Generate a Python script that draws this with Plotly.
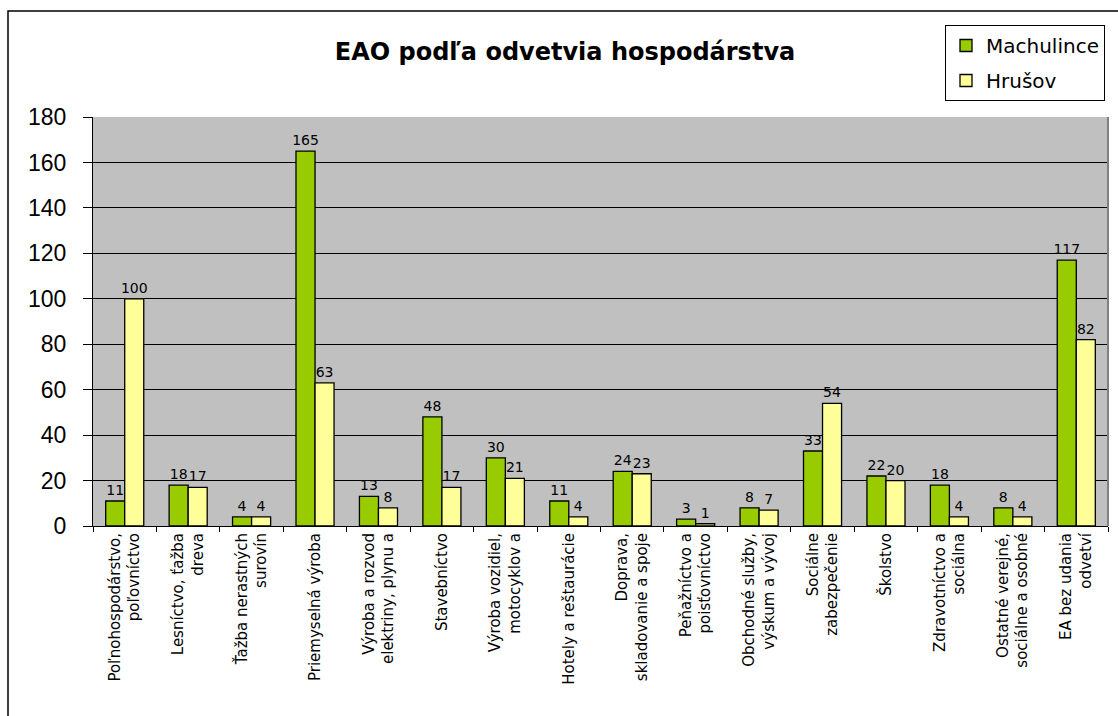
import plotly.graph_objects as go

categories = [
    "Poľnohospodárstvo,<br>poľovníctvo",
    "Lesníctvo, ťažba<br>dreva",
    "Ťažba nerastných<br>surovín",
    "Priemyselná výroba",
    "Výroba a rozvod<br>elektriny, plynu a",
    "Stavebníctvo",
    "Výroba vozidiel,<br>motocyklov a",
    "Hotely a reštaurácie",
    "Doprava,<br>skladovanie a spoje",
    "Peňažníctvo a<br>poisťovníctvo",
    "Obchodné služby,<br>výskum a vývoj",
    "Sociálne<br>zabezpečenie",
    "Školstvo",
    "Zdravotníctvo a<br>sociálna",
    "Ostatné verejné,<br>sociálne a osobné",
    "EA bez udania<br>odvetví",
]
machulince = [11, 18, 4, 165, 13, 48, 30, 11, 24, 3, 8, 33, 22, 18, 8, 117]
hrusov = [100, 17, 4, 63, 8, 17, 21, 4, 23, 1, 7, 54, 20, 4, 4, 82]
y_ticks = list(range(0, 181, 20))

W, H = 1118, 716
L, R, T, B = 93, 10, 117, 190
pw, ph = W - L - R, H - T - B

font = "Liberation Sans, Arial, sans-serif"
wide = "DejaVu Sans, Liberation Sans, sans-serif"

fig = go.Figure()
fig.add_trace(go.Bar(
    name="Machulince", x=categories, y=machulince, legendgroup="m",
    marker=dict(color="#99CC00", line=dict(color="black", width=1.3)),
    text=[str(v) for v in machulince], textposition="outside",
    textfont=dict(size=14, color="black", family=wide),
    constraintext="none", cliponaxis=False,
))
fig.add_trace(go.Bar(
    name="Hrušov", x=categories, y=hrusov, legendgroup="h",
    marker=dict(color="#FFFF99", line=dict(color="black", width=1.3)),
    text=[str(v) for v in hrusov], textposition="outside",
    textfont=dict(size=14, color="black", family=wide),
    constraintext="none", cliponaxis=False,
))

# outer frame (pixel positions converted to paper coordinates)
fig.add_shape(type="rect", xref="paper", yref="paper",
              x0=(8 - L) / pw, x1=(1130 - L) / pw,
              y0=(H - B - 760) / ph, y1=(H - B - 11) / ph,
              line=dict(color="black", width=1.5), fillcolor="rgba(0,0,0,0)",
              layer="below")
# gray right border of the plot area
fig.add_shape(type="line", xref="paper", yref="paper", x0=1, x1=1, y0=0, y1=1,
              line=dict(color="#808080", width=2))

fig.update_layout(
    width=W, height=H,
    margin=dict(l=L, r=R, t=T, b=B, autoexpand=False),
    paper_bgcolor="white", plot_bgcolor="#C0C0C0",
    barmode="group", bargap=0.4, bargroupgap=0,
    font=dict(family=font, color="black"),
    title=dict(text="<b>EAO podľa odvetvia hospodárstva</b>",
               x=565 / W, xanchor="center", y=1 - 52 / H, yanchor="middle",
               font=dict(size=24, family=wide, color="black")),
    legend=dict(x=(945 - L) / pw, y=(H - B - 25) / ph, xanchor="left", yanchor="top",
                bordercolor="black", borderwidth=1, bgcolor="white",
                font=dict(size=20, family=wide, color="black"),
                tracegroupgap=6, itemwidth=30),
    xaxis=dict(tickangle=-90, tickfont=dict(size=15, family=wide, color="black"),
               ticks="outside", tickson="boundaries", ticklen=5, tickcolor="black",
               showline=True, linecolor="black", linewidth=1, mirror=False,
               showgrid=False),
    yaxis=dict(range=[0, 180], tickvals=y_ticks,
               tickfont=dict(size=23, family=font, color="black"),
               ticks="outside", ticklen=9, tickcolor="black", ticklabelstandoff=12,
               showline=True, linecolor="black", linewidth=1, mirror=False,
               showgrid=True, gridcolor="black", gridwidth=1, zeroline=False),
)

fig.write_html("out.html", config={"displayModeBar": False},
               post_script="document.body.style.margin='0px';document.body.style.overflow='hidden';")
